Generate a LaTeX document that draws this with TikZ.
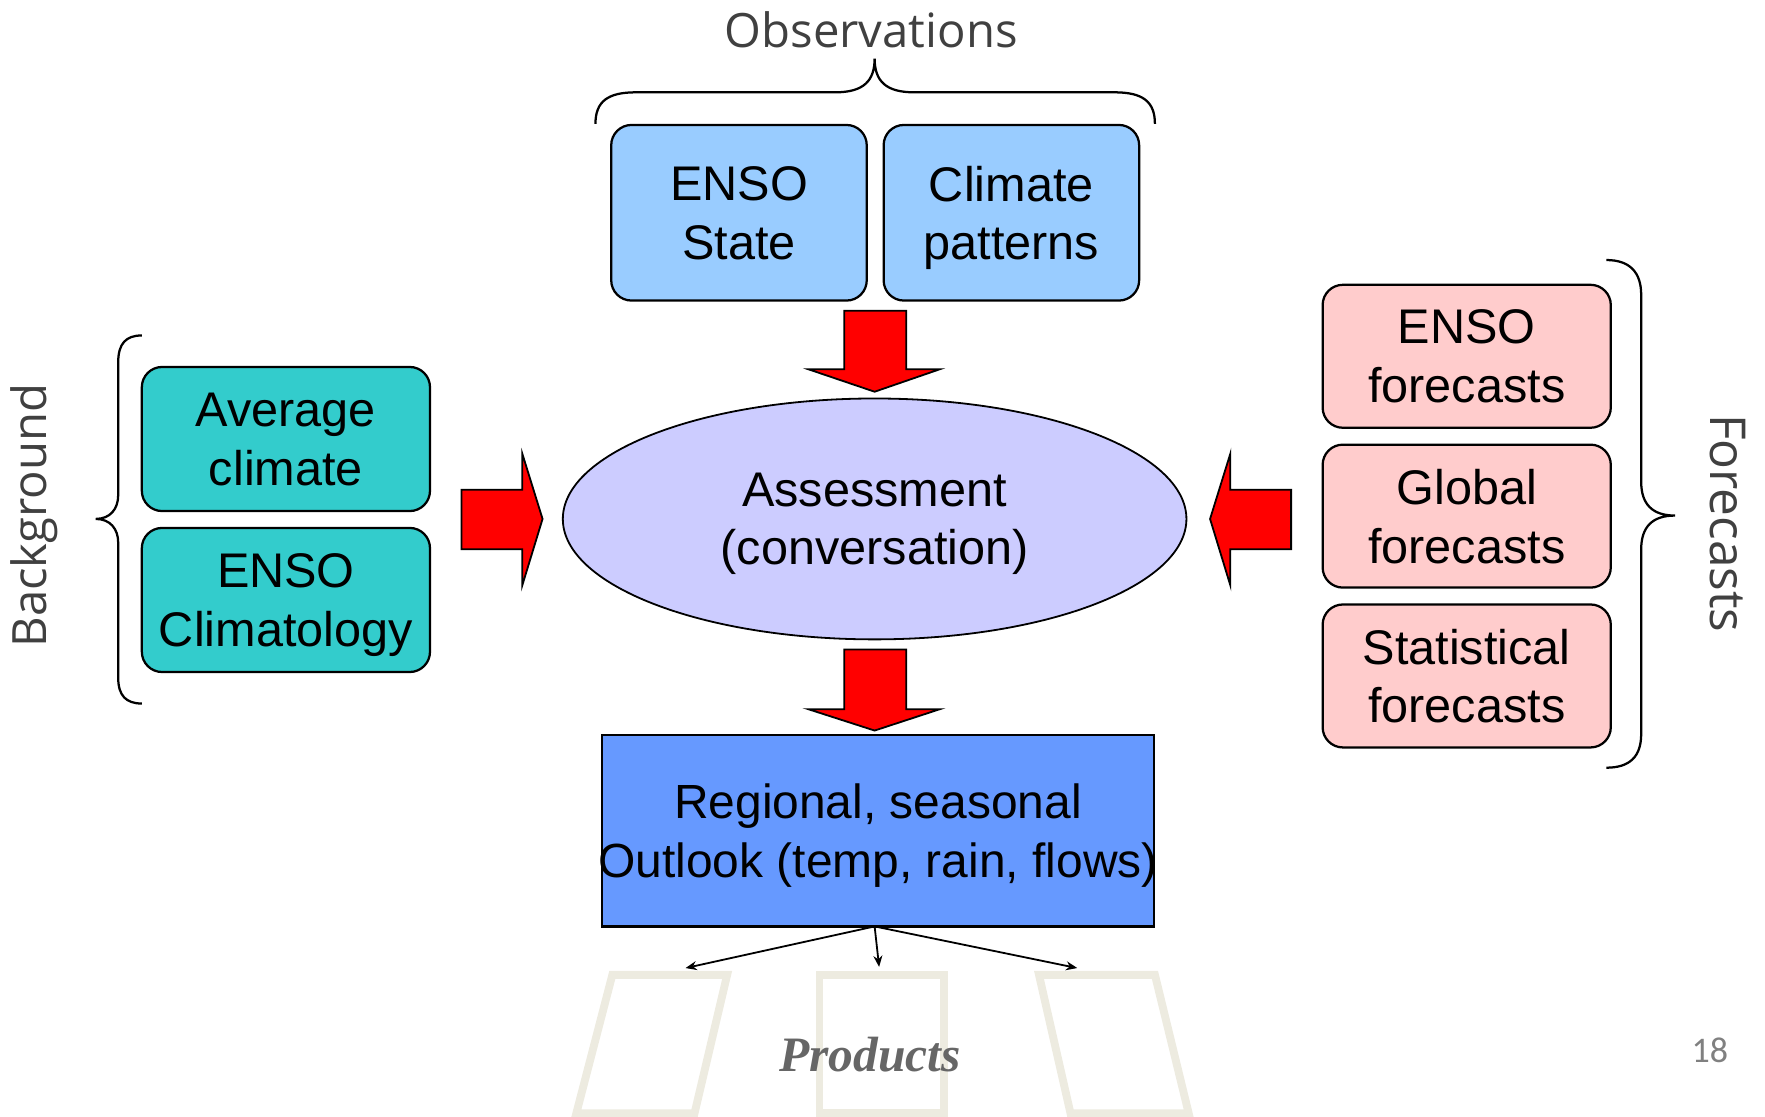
\documentclass[tikz,border=0pt]{standalone}
\usepackage{fontspec}
\setmainfont{Liberation Sans}
\newfontfamily\comicf{Open Sans}
\newfontfamily\serifbi{Liberation Serif}
\newfontfamily\pagenumf{Carlito}
\usetikzlibrary{shapes.geometric,arrows.meta}
\definecolor{obsblue}{HTML}{99CCFF}
\definecolor{bgteal}{HTML}{33CCCC}
\definecolor{fcpink}{HTML}{FFCCCC}
\definecolor{assessfill}{HTML}{CCCCFF}
\definecolor{outlookfill}{HTML}{6699FF}
\definecolor{prodbeige}{HTML}{EDEBE0}
\definecolor{labelgray}{HTML}{404040}
\definecolor{prodtext}{HTML}{666666}
\definecolor{pagegray}{HTML}{808080}
\begin{document}
\begin{tikzpicture}[x=0.5pt,y=-0.5pt,
  boxtext/.style={font=\fontsize{21.6}{26}\selectfont, align=center, text depth=0pt},
  box/.style={boxtext, draw=black, line width=1pt, rounded corners=9pt, inner sep=0pt},
  obsbox/.style={box, fill=obsblue, minimum width=113.5pt, minimum height=78pt},
  bgbox/.style={box, fill=bgteal, minimum width=128pt, minimum height=64pt},
  fcbox/.style={box, fill=fcpink, minimum width=128pt, minimum height=63.5pt},
  bigarrow/.style={draw=black, line width=0.8pt, fill=red, line join=miter},
  bracepath/.style={draw=black, line width=1pt},
  sidelabel/.style={font=\comicf\fontsize{21}{25}\selectfont, text=labelgray},
  thinarrow/.style={draw=black, line width=0.8pt, -{Stealth[length=5pt,width=4pt]}},
  prodshape/.style={draw=prodbeige, line width=3.5pt, line join=miter}
]
\useasboundingbox (0,0) rectangle (1568,992);

% product shapes (background)
\draw[prodshape] (544,866) -- (646,866) -- (617,989) -- (512,989) -- cycle;
\draw[prodshape] (728,866) -- (839,866) -- (839,989) -- (728,989) -- cycle;
\draw[prodshape] (923,866) -- (1026,866) -- (1056,989) -- (951,989) -- cycle;

% Observations
\node[sidelabel] (obslabel) at (774,26) {Observations};
\draw[bracepath] (529,110) .. controls (529,90) and (540,82) .. (565,82) -- (742,82)
  .. controls (767,82) and (777,72) .. (777,52)
  .. controls (777,72) and (787,82) .. (812,82) -- (990,82)
  .. controls (1015,82) and (1026,90) .. (1026,110);
\node[obsbox] (ensostate) at (656.5,189) {ENSO\\State};
\node[obsbox] (climpat) at (898.5,189) {Climate\\patterns};

% Background
\node[sidelabel, rotate=90] (bglabel) at (30,458) {Background};
\draw[bracepath] (126,298) .. controls (112,298) and (105,305) .. (105,322) -- (105,440)
  .. controls (105,452) and (98,461) .. (85,461)
  .. controls (98,461) and (105,470) .. (105,482) -- (105,602)
  .. controls (105,618) and (112,625) .. (126,625);
\node[bgbox] (avgclim) at (254,390) {Average\\climate};
\node[bgbox] (ensoclim) at (254,533) {ENSO\\Climatology};

% Forecasts
\node[sidelabel, font=\comicf\fontsize{22}{26}\selectfont, rotate=-90] (fclabel) at (1535,465) {Forecasts};
\draw[bracepath] (1427,231) .. controls (1448,231) and (1458,242) .. (1458,262) -- (1458,428)
  .. controls (1458,448) and (1468,458) .. (1488,458)
  .. controls (1468,458) and (1458,468) .. (1458,488) -- (1458,652)
  .. controls (1458,672) and (1448,682) .. (1427,682);
\node[fcbox] (ensofc) at (1303,316.5) {ENSO\\forecasts};
\node[fcbox] (globfc) at (1303,458.5) {Global\\forecasts};
\node[fcbox] (statfc) at (1303,600.5) {Statistical\\forecasts};

% Assessment
\node[boxtext, draw=black, line width=0.8pt, fill=assessfill, ellipse, inner sep=0pt,
  minimum width=277pt, minimum height=107pt] (assess) at (777,461) {Assessment\\(conversation)};

% Outlook
\node[boxtext, font=\fontsize{21.3}{26}\selectfont, draw=black, line width=1pt, fill=outlookfill, rectangle, inner sep=0pt,
  minimum width=245pt, minimum height=85pt] (outlook) at (780,738)
  {\makebox[0pt]{Regional, seasonal}\\\makebox[0pt]{Outlook (temp, rain, flows)}};

% big red arrows
\draw[bigarrow] (750,276) -- (805,276) -- (805,328) -- (835,328) -- (777,348) -- (718,328) -- (750,328) -- cycle;
\draw[bigarrow] (750,577) -- (805,577) -- (805,630) -- (835,630) -- (777,649) -- (718,630) -- (750,630) -- cycle;
\draw[bigarrow] (410,435) -- (464,435) -- (464,403) -- (482,461) -- (464,520) -- (464,488) -- (410,488) -- cycle;
\draw[bigarrow] (1147,435) -- (1093,435) -- (1093,403) -- (1075,461) -- (1093,520) -- (1093,488) -- (1147,488) -- cycle;

% product arrows
\coordinate (prodA) at (609,860);
\coordinate (prodB) at (781,859);
\coordinate (prodC) at (957,860);
\coordinate (outsrc) at (777,823);
\draw[thinarrow] (outsrc) -- (prodA);
\draw[thinarrow] (outsrc) -- (prodB);
\draw[thinarrow] (outsrc) -- (prodC);

\node[font=\serifbi\bfseries\itshape\fontsize{22}{26}\selectfont, text=prodtext] (products) at (773,937) {Products};
\node[font=\pagenumf\fontsize{16}{19}\selectfont, text=pagegray] (pagenum) at (1519,933) {18};
\end{tikzpicture}
\end{document}
